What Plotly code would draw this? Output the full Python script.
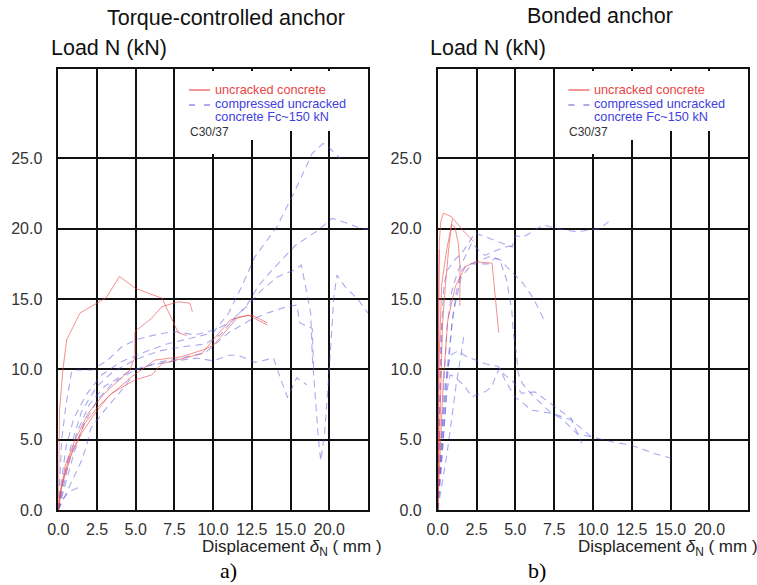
import plotly.graph_objects as go

W, H = 757, 585

# ---------------- data: (a) Torque-controlled anchor ----------------
x_tick_vals = [0, 2.5, 5, 7.5, 10, 12.5, 15, 17.5]
x_tick_text = ["0.0", "2.5", "5.0", "7.5", "10.0", "12.5", "15.0", "20.0"]
y_tick_vals = [0, 5, 10, 15, 20, 25]
y_tick_text = ["0.0", "5.0", "10.0", "15.0", "20.0", "25.0"]

tq_red1_x = [0, 0.05, 0.08, 0.3, 0.54, 1.4, 3.1, 3.95, 5.0, 6.7, 7.3, 7.75, 8.3]
tq_red1_y = [0, 3, 7.1, 10, 12.1, 14.0, 15.1, 16.6, 15.75, 15.05, 13.7, 12.6, 12.4]
tq_red2_x = [0, 0.43, 1.08, 1.94, 3.0, 4.63, 4.95, 4.95, 6.0, 6.68, 7.75, 8.5, 8.66]
tq_red2_y = [0, 3.1, 5.0, 6.9, 8.3, 9.95, 10.9, 12.7, 13.6, 14.45, 14.8, 14.7, 14.1]
tq_red3_x = [0, 0.1, 0.65, 1.72, 2.58, 3.45, 4.95, 6.03, 6.68, 9.26, 10.0, 11.1, 12.25, 13.5]
tq_red3_y = [0, 1.2, 3.55, 6.16, 7.35, 8.3, 9.24, 9.6, 10.4, 11.1, 12.1, 13.5, 13.86, 13.15]
tq_red4_x = [0, 0.2, 0.87, 1.5, 2.37, 3.23, 4.74, 6.25, 7.97, 9.4, 10.0, 11.6, 12.5, 13.5]
tq_red4_y = [0, 1.66, 4.0, 5.45, 6.87, 8.05, 9.47, 10.66, 10.9, 11.4, 11.7, 13.7, 13.86, 13.3]

tq_blue1_x = [0, 0.2, 0.5, 1.0, 1.8, 2.8, 4.0, 5.5, 7.0, 8.5, 10.0, 11.0, 11.85, 12.7, 14.1, 15.2, 16.4, 17.1, 17.45, 18.2]
tq_blue1_y = [0, 2, 4.5, 6.5, 8.2, 9.6, 10.5, 11.2, 11.8, 12.2, 12.6, 14.0, 15.9, 18.0, 20.1, 22.5, 25.35, 26.06, 25.8, 25.0]
tq_blue2_x = [0, 0.15, 0.22, 0.5, 0.87, 1.1, 2.2, 3.2, 4.1, 5.0, 6.25, 7.5, 8.8, 10.1, 11.2, 12.2, 12.9, 13.8, 15.3, 16.8, 17.66, 18.1, 19.6, 20.0]
tq_blue2_y = [0, 3, 5, 7.5, 9.9, 9.95, 9.95, 10.66, 11.6, 12.1, 12.45, 12.7, 12.45, 12.8, 13.4, 14.6, 15.9, 17.05, 18.8, 19.9, 20.73, 20.6, 20.0, 19.95]
tq_blue3_x = [0, 0.4, 0.8, 1.5, 2.5, 3.5, 5.0, 6.5, 8.0, 9.5, 10.5, 11.5, 12.3, 13.1, 14.2, 15.2, 15.7, 15.95, 16.3, 16.4, 16.6, 16.8, 16.95, 17.2, 17.5, 17.8, 18.0, 18.5, 19.4, 20.0]
tq_blue3_y = [0, 2.5, 4.5, 7.0, 8.8, 9.8, 10.7, 11.3, 11.6, 11.8, 12.5, 13.8, 14.6, 15.6, 16.6, 17.05, 17.4, 15.9, 14.0, 11.0, 7.8, 5.0, 3.5, 5.5, 10.0, 15.2, 16.7, 15.9, 14.9, 14.0]
tq_blue4_x = [0, 0.3, 0.7, 1.2, 2.0, 3.0, 4.5, 6.0, 7.5, 9.0, 10.0, 11.0, 11.6, 12.7, 13.9, 14.4, 14.8, 15.4, 16.05]
tq_blue4_y = [0, 1.5, 3.5, 5.5, 7.5, 8.8, 9.8, 10.3, 10.6, 10.8, 10.6, 11.0, 11.0, 10.5, 10.8, 9.2, 8.0, 9.4, 8.9]
tq_blue5_x = [0, 0.5, 1.0, 1.6, 2.5, 3.5, 5.0, 6.5, 8.0, 9.5, 11.0, 12.4, 13.5, 14.75, 15.4, 15.6, 16.4, 16.5]
tq_blue5_y = [0, 2, 4, 6, 7.8, 9.0, 10.0, 10.5, 10.8, 11.2, 12.6, 13.5, 14.0, 14.45, 14.57, 13.3, 12.9, 9.7]
tq_blue6_x = [0, 0.3, 0.7, 1.3]
tq_blue6_y = [0, 0.8, 1.3, 1.6]
tq_blue7_x = [0, 0.5, 1.0, 1.5, 1.8, 2.1, 3.0, 4.0, 4.85]
tq_blue7_y = [0, 1.2, 2.3, 3.5, 4.5, 5.8, 7.1, 8.4, 9.6]

# ---------------- data: (b) Bonded anchor ----------------
bd_red1_x = [0, 0.03, 0.06, 0.1, 0.2, 0.36, 0.9, 1.6, 2.3]
bd_red1_y = [0, 8, 15, 19, 20.5, 21.1, 20.85, 19.9, 19.1]
bd_red2_x = [0, 0.1, 0.2, 0.3, 0.5, 0.7, 0.9, 1.11, 1.33, 1.44, 1.42]
bd_red2_y = [0, 4, 9, 13, 16, 18.5, 20.3, 20.1, 18.95, 17.3, 14.5]
bd_red3_x = [0, 0.15, 0.35, 0.65, 1.14, 1.78, 2.42, 3.5, 3.7, 3.93]
bd_red3_y = [0, 4, 9, 13.5, 15.9, 17.3, 17.65, 17.55, 15.2, 12.6]
bd_red4_x = [0, 0.04, 0.1, 0.26, 0.58, 0.79, 0.95]
bd_red4_y = [0, 6, 11, 16.1, 18.5, 19.7, 20.7]
bd_red5_x = [0, 0.01, 0.03, 0.06, 0.1]
bd_red5_y = [0, 6, 12, 16, 18.5]

bd_blue1_x = [0, 0.1, 0.2, 0.3, 0.4, 0.6, 1.1, 1.55, 2.0, 2.4, 3.6, 4.8, 5.0, 5.5, 6.8, 7.7, 8.95, 10.0, 10.45, 11.0]
bd_blue1_y = [0, 5, 10, 14, 16, 17, 17.8, 18.25, 19.0, 19.7, 19.2, 18.7, 19.5, 19.4, 20.26, 20.0, 19.78, 19.9, 20.0, 20.5]
bd_blue2_x = [0, 0.2, 0.4, 0.6, 0.9, 1.3, 1.9, 2.2, 2.6, 3.05, 3.9, 4.33, 4.87]
bd_blue2_y = [0, 4, 9, 13, 15.5, 17.0, 18.3, 19.0, 18.5, 18.1, 18.5, 18.7, 18.8]
bd_blue3_x = [0, 0.3, 0.6, 0.9, 1.2, 1.55, 1.97, 3.26, 3.69, 4.0, 4.44, 4.77, 4.87, 5.07, 5.19, 5.45, 6.05, 7.3, 8.6, 9.9, 11.2, 12.5, 14.0, 15.0]
bd_blue3_y = [0, 4, 9, 13, 15.5, 17.06, 17.5, 17.5, 17.9, 17.77, 16.35, 14.2, 12.6, 11.1, 9.7, 9.0, 8.2, 6.9, 6.4, 5.2, 4.85, 4.6, 4.0, 3.7]
bd_blue4_x = [0, 0.3, 0.6, 1.0, 1.5, 2.2, 3.3, 4.0, 4.87, 5.5, 6.16, 6.9]
bd_blue4_y = [0, 5, 10, 14, 16.5, 17.5, 18.0, 17.8, 16.8, 16.1, 15.05, 13.4]
bd_blue5_x = [0, 0.15, 0.3, 0.5, 0.8, 1.3, 1.87, 3.05, 3.9, 4.3, 4.77, 5.4, 6.26, 7.55, 8.6, 9.27]
bd_blue5_y = [0, 3, 6, 9, 11, 11.3, 10.9, 10.4, 10.2, 9.6, 9.24, 8.3, 8.4, 7.34, 6.5, 4.74]
bd_blue6_x = [0, 0.2, 0.4, 0.6, 0.8, 1.11, 1.76, 2.19, 3.05, 3.48, 3.8, 4.0, 4.33, 5.0, 5.5, 6.05, 7.34, 8.0, 9.0, 9.92]
bd_blue6_y = [0, 3, 6, 8.5, 9.6, 9.47, 8.76, 8.05, 8.4, 8.76, 9.7, 10.07, 9.24, 8.0, 7.6, 7.1, 6.87, 6.5, 5.4, 5.2]
bd_blue7_x = [0, 0.05, 0.1, 0.15, 0.2, 0.3]
bd_blue7_y = [0, 3, 7, 10, 12.5, 13.5]
bd_blue8_x = [0, 0.3, 0.6, 0.9, 1.2, 1.5, 1.7]
bd_blue8_y = [0, 2, 4, 6.5, 9, 11, 12.5]

torque_red = [(tq_red1_x, tq_red1_y), (tq_red2_x, tq_red2_y), (tq_red3_x, tq_red3_y), (tq_red4_x, tq_red4_y)]
torque_blue = [(tq_blue1_x, tq_blue1_y), (tq_blue2_x, tq_blue2_y), (tq_blue3_x, tq_blue3_y),
               (tq_blue4_x, tq_blue4_y), (tq_blue5_x, tq_blue5_y), (tq_blue6_x, tq_blue6_y),
               (tq_blue7_x, tq_blue7_y)]
bonded_red = [(bd_red1_x, bd_red1_y), (bd_red2_x, bd_red2_y), (bd_red3_x, bd_red3_y),
              (bd_red4_x, bd_red4_y), (bd_red5_x, bd_red5_y)]
bonded_blue = [(bd_blue1_x, bd_blue1_y), (bd_blue2_x, bd_blue2_y), (bd_blue3_x, bd_blue3_y),
               (bd_blue4_x, bd_blue4_y), (bd_blue5_x, bd_blue5_y), (bd_blue6_x, bd_blue6_y),
               (bd_blue7_x, bd_blue7_y), (bd_blue8_x, bd_blue8_y)]

panel_titles = ["Torque-controlled anchor", "Bonded anchor"]
panel_labels = ["a)", "b)"]

# ---------------- styles ----------------
RED = "rgba(235,70,70,0.6)"
BLUE = "rgba(85,85,228,0.5)"
DASH = "7px,5px"
FONT = "Liberation Sans, Arial, sans-serif"


def px(p):
    return p / W


def py(p):
    return 1 - p / H


fig = go.Figure()

for (xs, ys) in torque_blue:
    fig.add_trace(go.Scatter(x=xs, y=ys, mode="lines", xaxis="x", yaxis="y",
                             line=dict(color=BLUE, width=1.1, dash=DASH)))
for (xs, ys) in torque_red:
    fig.add_trace(go.Scatter(x=xs, y=ys, mode="lines", xaxis="x", yaxis="y",
                             line=dict(color=RED, width=1.0)))
for (xs, ys) in bonded_blue:
    fig.add_trace(go.Scatter(x=xs, y=ys, mode="lines", xaxis="x2", yaxis="y2",
                             line=dict(color=BLUE, width=1.1, dash=DASH)))
for (xs, ys) in bonded_red:
    fig.add_trace(go.Scatter(x=xs, y=ys, mode="lines", xaxis="x2", yaxis="y2",
                             line=dict(color=RED, width=1.0)))

axis_common = dict(
    showgrid=True, gridcolor="#111111", gridwidth=1.5,
    showline=True, mirror=True, linecolor="#111111", linewidth=1.5,
    zeroline=False, ticks="", automargin=False,
    tickfont=dict(family=FONT, size=16, color="#333333"),
)

y_dom = [py(510), py(69)]
fig.update_layout(
    width=W, height=H,
    margin=dict(l=0, r=0, t=0, b=0),
    paper_bgcolor="white", plot_bgcolor="white",
    showlegend=False,
    xaxis=dict(domain=[px(58.3), px(368)], range=[0, 20], tickvals=x_tick_vals,
               ticktext=x_tick_text, anchor="y", ticklabelstandoff=4, **axis_common),
    yaxis=dict(domain=y_dom, range=[0, 31.35], tickvals=y_tick_vals,
               ticktext=y_tick_text, anchor="x", ticklabelstandoff=11, **axis_common),
    xaxis2=dict(domain=[px(437.7), px(748.3)], range=[0, 20], tickvals=x_tick_vals,
                ticktext=x_tick_text, anchor="y2", ticklabelstandoff=4, **axis_common),
    yaxis2=dict(domain=y_dom, range=[0, 31.35], tickvals=y_tick_vals,
                ticktext=y_tick_text, anchor="x2", ticklabelstandoff=11, **axis_common),
)

shapes = []
annotations = []
panel_offsets = [0, 379.4]
title_centers = [225.5, 600]
title_y = [18, 16]
disp_left = [200, 576]
label_centers = [229, 537]

for i, off in enumerate(panel_offsets):
    # white legend background covering grid lines
    for (x0, x1, y0, y1) in [(185, 365, 71, 131), (185, 240, 131, 154), (240, 262, 131, 140)]:
        shapes.append(dict(type="rect", xref="paper", yref="paper",
                           x0=px(x0 + off), x1=px(x1 + off), y0=py(y1), y1=py(y0),
                           fillcolor="white", line=dict(width=0), layer="above"))
    # legend samples
    shapes.append(dict(type="line", xref="paper", yref="paper",
                       x0=px(189 + off), x1=px(210 + off), y0=py(90), y1=py(90),
                       line=dict(color="rgba(232,60,60,0.9)", width=1.2), layer="above"))
    shapes.append(dict(type="line", xref="paper", yref="paper",
                       x0=px(189 + off), x1=px(210 + off), y0=py(105), y1=py(105),
                       line=dict(color="rgba(70,70,215,0.9)", width=1.2, dash="6px,9px"), layer="above"))
    leg = [("uncracked concrete", 90, "#e84545"),
           ("compressed uncracked", 104, "#4040e0"),
           ("concrete Fc~150 kN", 117.5, "#4040e0")]
    for (txt, yy, col) in leg:
        annotations.append(dict(text=txt, xref="paper", yref="paper", x=px(213 + off), y=py(yy),
                                xanchor="left", yanchor="middle", showarrow=False,
                                font=dict(family=FONT, size=12.7, color=col)))
    annotations.append(dict(text="C30/37", xref="paper", yref="paper", x=px(188 + off), y=py(132),
                            xanchor="left", yanchor="middle", showarrow=False,
                            font=dict(family=FONT, size=12, color="#333333")))
    # titles
    annotations.append(dict(text=panel_titles[i], xref="paper", yref="paper",
                            x=px(title_centers[i]), y=py(title_y[i]), xanchor="center", yanchor="middle",
                            showarrow=False, font=dict(family=FONT, size=21.5, color="#111111")))
    annotations.append(dict(text="Load N (kN)", xref="paper", yref="paper",
                            x=px(49 + off), y=py(47.5), xanchor="left", yanchor="middle",
                            showarrow=False, font=dict(family=FONT, size=21.5, color="#111111")))
    annotations.append(dict(text="Displacement <i>δ</i><sub>N</sub> ( mm )", xref="paper", yref="paper",
                            x=px(disp_left[i]), y=py(548), xanchor="left", yanchor="middle",
                            showarrow=False, font=dict(family=FONT, size=17, color="#222222")))
    annotations.append(dict(text=panel_labels[i], xref="paper", yref="paper",
                            x=px(label_centers[i]), y=0, xanchor="center", yanchor="bottom",
                            showarrow=False, font=dict(family="Liberation Serif, Times New Roman, serif",
                                                       size=22, color="#000000")))

fig.update_layout(shapes=shapes, annotations=annotations)
fig.write_html("out.html", config={"displayModeBar": False},
               post_script="document.body.style.margin='0px';")
